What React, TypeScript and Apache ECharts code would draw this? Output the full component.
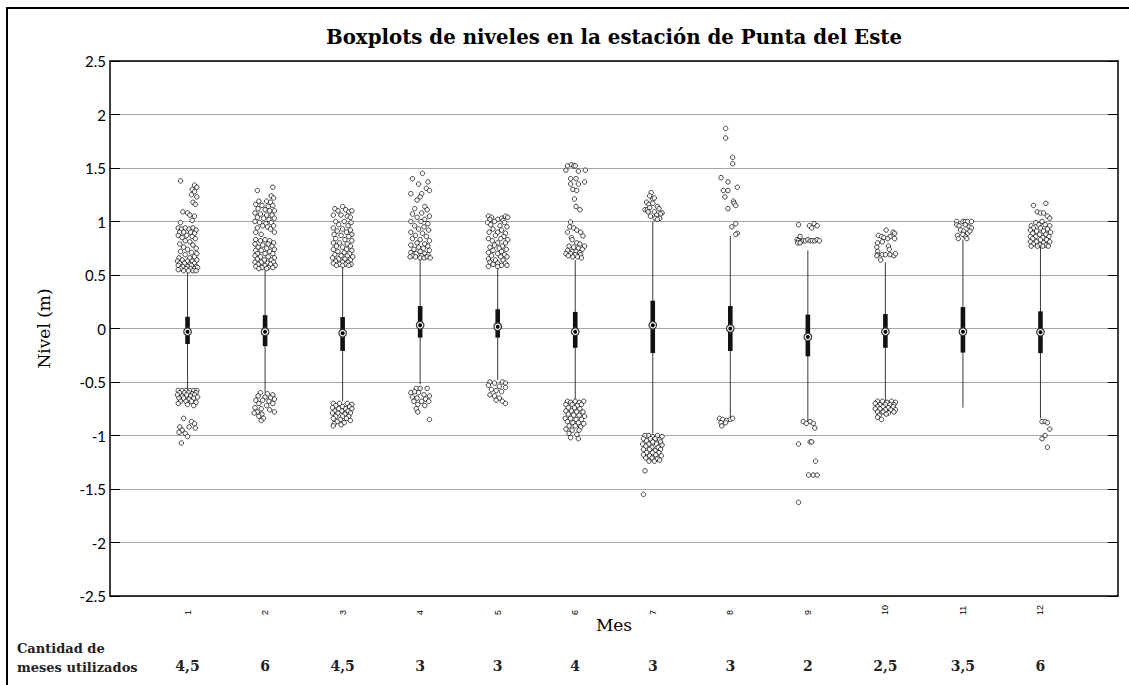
import React, { useEffect, useRef } from "react";
import * as echarts from "echarts";

const months = [1, 2, 3, 4, 5, 6, 7, 8, 9, 10, 11, 12];
const monthLabels = ["1", "2", "3", "4", "5", "6", "7", "8", "9", "10", "11", "12"];
const countLabels = ["4,5", "6", "4,5", "3", "3", "4", "3", "3", "2", "2,5", "3,5", "6"];

const whiskerLow = [-0.565, -0.6, -0.68, -0.52, -0.48, -0.66, -0.98, -0.83, -0.87, -0.675, -0.74, -0.84];
const q1 = [-0.145, -0.165, -0.21, -0.085, -0.085, -0.18, -0.23, -0.21, -0.26, -0.18, -0.225, -0.23];
const median = [-0.03, -0.03, -0.045, 0.03, 0.017, -0.03, 0.03, 0.0, -0.08, -0.03, -0.03, -0.035];
const q3 = [0.11, 0.125, 0.107, 0.21, 0.18, 0.155, 0.26, 0.21, 0.13, 0.135, 0.2, 0.16];
const whiskerHigh = [0.52, 0.55, 0.58, 0.65, 0.585, 0.64, 1.0, 0.865, 0.73, 0.62, 0.83, 0.76];

// outliers per month: [jitter (month units), level (m)]
const outliers1 = [
  [-0.09, 1.38], [0.09, 1.34], [0.12, 1.32], [0.06, 1.3], [0.09, 1.28], [0.05, 1.25], [0.12, 1.23], [0.07, 1.18], [0.1, 1.16], [-0.06, 1.09], [0.0, 1.08], [0.03, 1.06], [0.09, 1.05], [0.06, 1.01], [-0.09, 0.99],
  [-0.12, 0.94], [-0.08, 0.93], [-0.03, 0.94], [0.02, 0.93], [0.07, 0.94], [0.11, 0.92], [-0.1, 0.9], [-0.05, 0.9], [0.04, 0.9], [0.09, 0.89], [-0.12, 0.87], [-0.01, 0.87], [0.06, 0.86], [-0.07, 0.85], [0.1, 0.84], [-0.03, 0.82], [0.03, 0.81],
  [-0.1, 0.79], [0.07, 0.78], [-0.05, 0.76], [0.11, 0.75], [0.0, 0.74], [-0.09, 0.72], [0.05, 0.71], [0.12, 0.7], [-0.03, 0.69], [0.09, 0.67], [-0.11, 0.66], [0.03, 0.66],
  [-0.13, 0.63], [-0.07, 0.64], [0.0, 0.63], [0.06, 0.63], [0.12, 0.64], [-0.1, 0.61], [-0.04, 0.61], [0.03, 0.6], [0.09, 0.61], [-0.12, 0.59], [-0.06, 0.58], [0.0, 0.58], [0.05, 0.59], [0.11, 0.58], [-0.09, 0.56], [-0.02, 0.56], [0.04, 0.56], [0.09, 0.56], [0.13, 0.57], [-0.12, 0.55], [-0.05, 0.54], [0.01, 0.54], [0.07, 0.54], [0.11, 0.54],
  [-0.12, -0.58], [-0.07, -0.58], [-0.02, -0.58], [0.03, -0.58], [0.08, -0.58], [0.12, -0.58], [-0.1, -0.6], [-0.04, -0.6], [0.01, -0.6], [0.06, -0.61], [0.11, -0.6], [-0.13, -0.62], [-0.07, -0.63], [-0.01, -0.62], [0.04, -0.63], [0.09, -0.62], [-0.11, -0.65], [-0.05, -0.65], [0.02, -0.66], [0.08, -0.65], [0.13, -0.64], [-0.09, -0.68], [-0.02, -0.68], [0.05, -0.68], [0.11, -0.69], [-0.12, -0.7], [0.0, -0.71], [0.08, -0.72],
  [-0.05, -0.84], [0.05, -0.87], [0.09, -0.89], [-0.1, -0.92], [0.02, -0.92], [0.1, -0.93], [-0.07, -0.95], [-0.11, -0.97], [-0.03, -0.98], [0.0, -1.01], [-0.08, -1.07],
];
const outliers2 = [
  [-0.1, 1.29], [0.1, 1.32], [0.08, 1.24], [0.11, 1.22], [-0.08, 1.19], [0.02, 1.19], [0.07, 1.18], [-0.12, 1.16], [-0.04, 1.15], [0.04, 1.14], [0.1, 1.15], [-0.09, 1.12], [0.0, 1.11], [0.06, 1.1], [0.12, 1.1], [-0.13, 1.08], [-0.06, 1.07], [0.02, 1.06], [0.09, 1.06], [-0.1, 1.04], [-0.02, 1.03], [0.05, 1.02], [0.12, 1.03], [-0.13, 1.0], [-0.07, 0.99], [0.01, 0.98], [0.08, 0.99], [-0.03, 0.96], [0.03, 0.95], [0.11, 0.96], [-0.1, 0.94], [0.07, 0.93], [-0.12, 0.9], [0.12, 0.9], [-0.05, 0.88],
  [-0.12, 0.83], [-0.06, 0.82], [0.0, 0.83], [0.06, 0.82], [0.11, 0.8], [-0.13, 0.79], [-0.03, 0.78], [0.04, 0.79], [0.09, 0.77], [-0.09, 0.76], [0.02, 0.75], [0.12, 0.74], [-0.12, 0.73], [-0.05, 0.73], [0.06, 0.72], [-0.1, 0.7], [0.0, 0.7], [0.1, 0.7], [-0.13, 0.68], [-0.06, 0.67], [0.04, 0.67], [0.12, 0.66], [-0.1, 0.65], [-0.01, 0.64], [0.08, 0.64], [-0.13, 0.62], [-0.05, 0.62], [0.03, 0.61], [0.11, 0.62], [-0.09, 0.6], [0.0, 0.59], [0.07, 0.6], [0.13, 0.59], [-0.12, 0.58], [-0.04, 0.57], [0.04, 0.57], [0.1, 0.57], [-0.08, 0.56], [0.02, 0.56],
  [-0.06, -0.6], [0.03, -0.61], [0.1, -0.62], [-0.09, -0.63], [0.0, -0.64], [0.07, -0.65], [0.12, -0.66], [-0.12, -0.67], [-0.03, -0.67], [0.05, -0.68], [-0.08, -0.7], [0.1, -0.7], [0.02, -0.72], [-0.13, -0.74], [-0.05, -0.75], [0.06, -0.76], [-0.1, -0.78], [0.12, -0.78], [-0.14, -0.79], [-0.04, -0.8], [-0.08, -0.82], [-0.02, -0.84], [-0.05, -0.86],
];
const outliers3 = [
  [-0.1, 1.12], [0.0, 1.14], [0.04, 1.11], [-0.06, 1.1], [0.08, 1.09], [0.12, 1.1], [-0.12, 1.06], [-0.02, 1.06], [0.06, 1.05], [0.1, 1.04], [-0.09, 1.0], [0.02, 1.0], [0.11, 0.99], [-0.05, 0.97], [0.07, 0.96], [-0.12, 0.94], [0.0, 0.93], [0.1, 0.92], [-0.07, 0.91], [0.05, 0.9], [-0.11, 0.88], [0.12, 0.88], [-0.02, 0.87], [0.08, 0.86], [-0.09, 0.84], [0.03, 0.83], [0.12, 0.82], [-0.12, 0.8], [-0.04, 0.8], [0.06, 0.79], [-0.08, 0.77], [0.1, 0.77], [0.0, 0.76], [-0.12, 0.74], [0.05, 0.74], [0.12, 0.73], [-0.06, 0.72], [0.02, 0.71], [0.09, 0.7], [-0.1, 0.69], [-0.02, 0.68], [0.06, 0.68], [0.13, 0.67], [-0.13, 0.66], [-0.05, 0.65], [0.03, 0.65], [0.1, 0.64], [-0.09, 0.63], [0.0, 0.62], [0.07, 0.62], [-0.12, 0.61], [-0.04, 0.6], [0.04, 0.6], [0.11, 0.6], [-0.08, 0.59], [0.0, 0.59], [0.08, 0.59],
  [-0.12, -0.7], [-0.04, -0.7], [0.06, -0.7], [0.12, -0.71], [-0.09, -0.72], [0.0, -0.73], [0.09, -0.73], [-0.13, -0.74], [-0.05, -0.75], [0.04, -0.75], [0.12, -0.75], [-0.1, -0.77], [-0.01, -0.77], [0.07, -0.77], [-0.13, -0.79], [-0.06, -0.79], [0.03, -0.8], [0.1, -0.79], [-0.09, -0.82], [0.0, -0.82], [0.08, -0.82], [-0.12, -0.84], [-0.03, -0.85], [0.05, -0.84], [0.1, -0.86], [-0.07, -0.87], [0.02, -0.88], [-0.11, -0.89], [-0.02, -0.9], [-0.12, -0.91],
];
const outliers4 = [
  [0.03, 1.45], [-0.1, 1.4], [0.1, 1.37], [-0.02, 1.35], [0.08, 1.31], [0.12, 1.29], [-0.12, 1.26], [0.02, 1.26], [0.0, 1.23], [-0.04, 1.2], [0.06, 1.14], [-0.07, 1.12], [0.09, 1.11], [0.02, 1.08], [-0.1, 1.07], [0.12, 1.05], [-0.04, 1.04], [0.06, 1.02], [-0.12, 1.0], [0.01, 1.0], [0.1, 0.98], [-0.07, 0.96], [0.05, 0.95], [-0.02, 0.93], [0.11, 0.92], [-0.12, 0.9], [0.03, 0.89], [-0.06, 0.87], [0.08, 0.86], [-0.1, 0.84], [0.0, 0.83], [0.12, 0.82], [-0.04, 0.8], [0.06, 0.79], [-0.12, 0.78], [0.1, 0.77], [-0.02, 0.76], [0.04, 0.75], [-0.08, 0.74], [0.12, 0.73], [0.0, 0.72], [-0.12, 0.71], [-0.05, 0.7], [0.06, 0.7], [0.1, 0.69], [-0.1, 0.68], [0.02, 0.68], [-0.13, 0.67], [-0.06, 0.67], [0.0, 0.66], [0.05, 0.66], [0.09, 0.67], [0.13, 0.66],
  [-0.05, -0.56], [0.0, -0.56], [0.09, -0.56], [-0.12, -0.6], [-0.07, -0.59], [-0.02, -0.6], [0.05, -0.62], [0.12, -0.63], [-0.1, -0.64], [-0.04, -0.65], [0.07, -0.66], [-0.08, -0.68], [0.02, -0.68], [0.11, -0.68], [-0.03, -0.71], [0.06, -0.72], [-0.05, -0.75], [-0.03, -0.78], [0.12, -0.85],
];
const outliers5 = [
  [-0.12, 1.05], [-0.08, 1.04], [0.05, 1.03], [0.1, 1.05], [0.13, 1.04], [-0.1, 1.02], [0.0, 1.02], [0.07, 1.01], [-0.13, 0.99], [-0.04, 1.0], [0.09, 0.99], [-0.09, 0.97], [0.03, 0.96], [0.12, 0.95], [-0.06, 0.93], [0.05, 0.92], [-0.11, 0.9], [0.0, 0.9], [0.1, 0.89], [-0.03, 0.87], [0.08, 0.86], [-0.12, 0.84], [0.04, 0.84], [0.13, 0.83], [-0.07, 0.82], [0.0, 0.8], [0.1, 0.8], [-0.04, 0.78], [0.06, 0.77], [-0.1, 0.76], [0.02, 0.75], [0.11, 0.74], [-0.06, 0.73], [0.05, 0.72], [-0.12, 0.71], [0.0, 0.7], [0.09, 0.69], [-0.08, 0.68], [0.04, 0.67], [0.12, 0.67], [-0.12, 0.65], [-0.03, 0.64], [0.07, 0.64], [-0.1, 0.62], [0.0, 0.61], [0.1, 0.61], [-0.06, 0.6], [0.05, 0.59], [0.12, 0.59], [-0.12, 0.58], [0.0, 0.58],
  [-0.1, -0.5], [-0.04, -0.51], [0.06, -0.5], [0.1, -0.51], [-0.12, -0.53], [0.02, -0.54], [0.1, -0.55], [-0.08, -0.57], [-0.02, -0.58], [0.05, -0.59], [-0.1, -0.62], [-0.04, -0.63], [0.02, -0.65], [0.06, -0.68], [0.1, -0.7], [-0.02, -0.67],
];
const outliers6 = [
  [-0.1, 1.52], [-0.05, 1.53], [-0.02, 1.52], [0.0, 1.52], [-0.12, 1.48], [0.13, 1.48], [0.04, 1.47], [-0.06, 1.4], [0.01, 1.4], [-0.06, 1.35], [0.04, 1.35], [0.12, 1.37], [-0.03, 1.3], [0.02, 1.29], [-0.01, 1.21], [0.01, 1.14], [0.06, 1.11],
  [-0.06, 0.995], [-0.07, 0.95], [-0.02, 0.94], [0.02, 0.92], [0.07, 0.9], [-0.1, 0.9], [0.1, 0.865], [-0.05, 0.85], [-0.04, 0.83],
  [0.02, 0.8], [0.06, 0.79], [-0.08, 0.77], [0.12, 0.77], [-0.02, 0.76], [0.04, 0.75], [0.09, 0.74], [-0.1, 0.73], [-0.04, 0.72], [0.01, 0.72], [0.06, 0.71], [-0.12, 0.7], [-0.06, 0.7], [0.0, 0.69], [0.07, 0.69], [-0.09, 0.68], [-0.03, 0.67], [0.03, 0.67], [0.08, 0.66],
  [-0.1, -0.68], [-0.06, -0.69], [0.0, -0.68], [0.05, -0.69], [0.11, -0.68], [-0.12, -0.71], [-0.04, -0.71], [0.03, -0.72], [0.08, -0.71], [-0.09, -0.74], [-0.01, -0.74], [0.06, -0.75], [-0.12, -0.77], [-0.05, -0.77], [0.02, -0.78], [0.1, -0.78], [-0.09, -0.8], [-0.02, -0.81], [0.05, -0.81], [0.12, -0.82], [-0.13, -0.84], [-0.06, -0.84], [0.01, -0.85], [0.08, -0.85], [-0.1, -0.87], [-0.03, -0.88], [0.04, -0.88], [0.11, -0.89], [-0.08, -0.91], [0.0, -0.91], [0.07, -0.92], [-0.12, -0.94], [-0.04, -0.95], [0.05, -0.95], [-0.08, -0.98], [0.02, -0.99], [-0.06, -1.02], [0.04, -1.03],
];
const outliers7 = [
  [-0.02, 1.27], [-0.04, 1.24], [0.0, 1.21], [0.02, 1.22], [-0.08, 1.18], [-0.05, 1.16], [0.0, 1.17], [0.06, 1.14], [-0.1, 1.11], [-0.07, 1.11], [-0.04, 1.13], [0.08, 1.12], [0.02, 1.09], [-0.06, 1.09], [0.12, 1.08], [0.1, 1.07], [0.05, 1.06], [-0.03, 1.05], [0.03, 1.03], [0.09, 1.03], [0.06, 1.02],
  [-0.1, -1.0], [-0.05, -1.0], [0.0, -1.01], [0.06, -1.0], [0.12, -1.01], [-0.12, -1.03], [-0.03, -1.03], [0.03, -1.03], [0.09, -1.04], [-0.08, -1.05], [0.0, -1.06], [0.1, -1.06], [-0.13, -1.08], [-0.05, -1.08], [0.05, -1.08], [0.12, -1.09], [-0.09, -1.1], [-0.01, -1.11], [0.07, -1.11], [-0.12, -1.13], [-0.04, -1.13], [0.03, -1.14], [0.1, -1.13], [-0.08, -1.16], [0.0, -1.16], [0.08, -1.16], [-0.12, -1.18], [-0.04, -1.19], [0.04, -1.18], [0.11, -1.19], [-0.09, -1.21], [-0.01, -1.21], [0.06, -1.22], [-0.05, -1.24], [0.02, -1.24], [0.09, -1.23], [-0.1, -1.33], [-0.12, -1.55],
];
const outliers8 = [
  [-0.06, 1.87], [-0.06, 1.78], [0.03, 1.6], [0.03, 1.54], [-0.12, 1.41], [-0.03, 1.37], [0.09, 1.32], [-0.09, 1.29], [-0.03, 1.29], [-0.07, 1.23], [0.04, 1.19], [0.05, 1.17], [0.07, 1.15], [-0.03, 1.12], [0.07, 0.98], [0.02, 0.95], [0.09, 0.89], [0.07, 0.88],
  [-0.14, -0.84], [-0.1, -0.85], [-0.05, -0.86], [0.0, -0.85], [0.03, -0.84], [-0.12, -0.88], [-0.06, -0.88], [-0.11, -0.91],
];
const outliers9 = [
  [-0.12, 0.97], [0.08, 0.98], [0.02, 0.96], [0.12, 0.96], [0.05, 0.94], [-0.1, 0.86], [-0.14, 0.83], [-0.12, 0.82], [-0.09, 0.81], [-0.06, 0.82], [-0.03, 0.82], [0.0, 0.83], [0.03, 0.82], [0.06, 0.82], [0.09, 0.82], [0.12, 0.83], [-0.13, 0.8], [-0.1, 0.8], [0.15, 0.82],
  [-0.06, -0.87], [-0.02, -0.886], [0.03, -0.87], [0.07, -0.886], [0.09, -0.93], [-0.12, -1.08], [0.03, -1.06], [0.05, -1.06], [0.1, -1.24], [0.01, -1.37], [0.07, -1.37], [0.12, -1.37], [-0.12, -1.625],
];
const outliers10 = [
  [0.01, 0.92], [0.1, 0.9], [0.12, 0.89], [-0.09, 0.87], [-0.05, 0.86], [0.06, 0.86], [-0.02, 0.85], [0.12, 0.84], [0.03, 0.84], [-0.1, 0.8], [-0.04, 0.81], [-0.11, 0.76], [0.04, 0.77], [0.05, 0.74], [-0.1, 0.72], [-0.1, 0.69], [-0.04, 0.69], [0.0, 0.69], [0.06, 0.69], [0.11, 0.68], [0.13, 0.7], [-0.06, 0.64], [-0.11, 0.68],
  [-0.1, -0.68], [-0.04, -0.68], [0.02, -0.69], [0.08, -0.68], [0.13, -0.69], [-0.13, -0.7], [-0.07, -0.71], [0.0, -0.71], [0.06, -0.71], [0.11, -0.71], [-0.1, -0.73], [-0.03, -0.73], [0.04, -0.74], [0.1, -0.73], [-0.13, -0.75], [-0.07, -0.75], [0.0, -0.76], [0.07, -0.76], [0.13, -0.76], [-0.1, -0.78], [-0.03, -0.78], [0.04, -0.79], [0.11, -0.78], [-0.08, -0.81], [0.01, -0.8], [-0.1, -0.83], [-0.05, -0.85],
];
const outliers11 = [
  [-0.08, 1.0], [0.0, 1.0], [0.03, 1.0], [0.06, 1.0], [0.11, 1.0], [-0.08, 0.97], [-0.05, 0.96], [0.03, 0.97], [0.08, 0.95], [0.11, 0.94], [-0.03, 0.92], [0.01, 0.91], [0.06, 0.89], [0.09, 0.91], [-0.07, 0.87], [0.03, 0.86], [-0.06, 0.84], [0.05, 0.84], [0.0, 0.88],
];
const outliers12 = [
  [-0.09, 1.15], [0.07, 1.17], [-0.04, 1.09], [0.0, 1.08], [0.04, 1.08], [0.09, 1.05], [0.12, 1.03], [-0.06, 0.99], [0.02, 1.0], [-0.12, 0.96], [-0.02, 0.97], [0.06, 0.97], [0.12, 0.96], [-0.09, 0.94], [0.0, 0.94], [0.09, 0.93], [-0.13, 0.92], [-0.05, 0.91], [0.04, 0.91], [0.13, 0.9], [-0.1, 0.89], [-0.01, 0.88], [0.07, 0.88], [-0.13, 0.86], [-0.06, 0.86], [0.03, 0.85], [0.11, 0.86], [-0.1, 0.84], [0.0, 0.83], [0.08, 0.83], [-0.13, 0.81], [-0.05, 0.81], [0.04, 0.8], [0.12, 0.81], [-0.09, 0.79], [-0.01, 0.78], [0.07, 0.78], [-0.12, 0.77], [-0.04, 0.77], [0.03, 0.77], [0.1, 0.77],
  [0.02, -0.87], [0.06, -0.87], [0.09, -0.88], [0.12, -0.94], [0.06, -1.0], [0.02, -1.03], [0.09, -1.11],
];
const outliersByMonth = [outliers1, outliers2, outliers3, outliers4, outliers5, outliers6, outliers7, outliers8, outliers9, outliers10, outliers11, outliers12];

const TITLE = "Boxplots de niveles en la estación de Punta del Este";
const SERIF = "'DejaVu Serif', 'Liberation Serif', serif";
const SANS = "Lato, 'Liberation Sans', sans-serif";

export default function App() {
  const ref = useRef<HTMLDivElement>(null);
  useEffect(() => {
    if (!ref.current) return;
    const chart = echarts.init(ref.current, null, { renderer: "svg" });
    const boxData = months.map((m, i) => [m, whiskerLow[i], q1[i], median[i], q3[i], whiskerHigh[i]]);
    const outData: number[][] = [];
    months.forEach((m, i) => {
      outliersByMonth[i].forEach(([dx, v]) => outData.push([m + dx, v]));
    });
    const baseX = { type: "value", min: 0, max: 13, interval: 1, splitLine: { show: false }, axisTick: { show: false } };
    chart.setOption({
      animation: false,
      backgroundColor: "#fff",
      grid: { left: 110, top: 61, right: 11, bottom: 89 },
      graphic: [
        { type: "rect", shape: { x: 7, y: 8, width: 1140, height: 700 }, style: { fill: "none", stroke: "#000", lineWidth: 2 }, silent: true },
        { type: "text", x: 614, y: 37, style: { text: TITLE, font: `bold 19.8px ${SERIF}`, fill: "#000", textAlign: "center", textVerticalAlign: "middle" } },
        { type: "text", x: 17, y: 639, style: { text: "Cantidad de\nmeses utilizados", font: `bold 13px ${SERIF}`, fill: "#222", textAlign: "left", textVerticalAlign: "top", lineHeight: 19 } },
      ],
      xAxis: [
        {
          ...baseX,
          position: "bottom",
          axisLine: { show: true, onZero: false, lineStyle: { color: "#000", width: 1.5 } },
          axisLabel: {
            rotate: 90, margin: 19, align: "left", verticalAlign: "middle", fontSize: 9, fontFamily: "'Liberation Sans', Arial, sans-serif", color: "#000",
            formatter: (v: number) => (v >= 1 && v <= 12 ? monthLabels[v - 1] : ""),
          },
          name: "Mes", nameLocation: "middle", nameGap: 20, nameMoveOverlap: false,
          nameTextStyle: { fontFamily: SERIF, fontSize: 17, color: "#000", verticalAlign: "top" },
        },
        {
          ...baseX,
          position: "top",
          axisLine: { show: true, onZero: false, lineStyle: { color: "#000", width: 1.5 } },
          axisLabel: { show: false },
        },
        {
          ...baseX,
          position: "bottom",
          axisLine: { show: false },
          axisLabel: {
            margin: 63, fontFamily: SERIF, fontWeight: "bold", fontSize: 14, color: "#222",
            formatter: (v: number) => (v >= 1 && v <= 12 ? countLabels[v - 1] : ""),
          },
        },
      ],
      yAxis: [
        {
          type: "value", min: -2.5, max: 2.5, interval: 0.5, position: "left",
          axisLine: { show: true, onZero: false, lineStyle: { color: "#000", width: 1.5 } },
          axisTick: { show: true, inside: true, length: 10, lineStyle: { color: "#000" } },
          splitLine: { show: true, lineStyle: { color: "#a6a6a6", width: 1 } },
          axisLabel: { fontFamily: SANS, fontSize: 15, color: "#000", margin: 4 },
          name: "Nivel (m)", nameLocation: "middle", nameGap: 58, nameMoveOverlap: false,
          nameTextStyle: { fontFamily: SERIF, fontSize: 17, color: "#000" },
        },
        {
          type: "value", min: -2.5, max: 2.5, interval: 0.5, position: "right",
          axisLine: { show: true, onZero: false, lineStyle: { color: "#000", width: 1.5 } },
          axisTick: { show: true, inside: true, length: 10, lineStyle: { color: "#000" } },
          splitLine: { show: false },
          axisLabel: { show: false },
        },
      ],
      series: [
        {
          type: "custom",
          xAxisIndex: 0,
          yAxisIndex: 0,
          data: boxData,
          encode: { x: 0, y: [1, 2, 3, 4, 5] },
          z: 3,
          renderItem: (params: any, api: any) => {
            const m = api.value(0);
            const lo = api.coord([m, api.value(1)]);
            const b1 = api.coord([m, api.value(2)]);
            const md = api.coord([m, api.value(3)]);
            const b3 = api.coord([m, api.value(4)]);
            const hi = api.coord([m, api.value(5)]);
            return {
              type: "group",
              children: [
                { type: "line", shape: { x1: lo[0], y1: lo[1], x2: hi[0], y2: hi[1] }, style: { stroke: "#3a3a3a", lineWidth: 1 } },
                { type: "rect", shape: { x: b3[0] - 2.3, y: b3[1], width: 4.6, height: b1[1] - b3[1] }, style: { fill: "#111" } },
                { type: "circle", shape: { cx: md[0], cy: md[1], r: 3.8 }, style: { fill: "#fff", stroke: "#333", lineWidth: 1.2 } },
                { type: "circle", shape: { cx: md[0], cy: md[1], r: 2 }, style: { fill: "#000" } },
              ],
            };
          },
        },
        {
          type: "scatter",
          xAxisIndex: 0,
          yAxisIndex: 0,
          data: outData,
          symbol: "circle",
          symbolSize: 4.5,
          z: 4,
          itemStyle: { color: "#fff", borderColor: "#000", borderWidth: 0.9 },
        },
      ],
    });
    return () => chart.dispose();
  }, []);
  return <div ref={ref} style={{ position: "fixed", left: 0, top: 0, width: 1129, height: 685 }} />;
}
